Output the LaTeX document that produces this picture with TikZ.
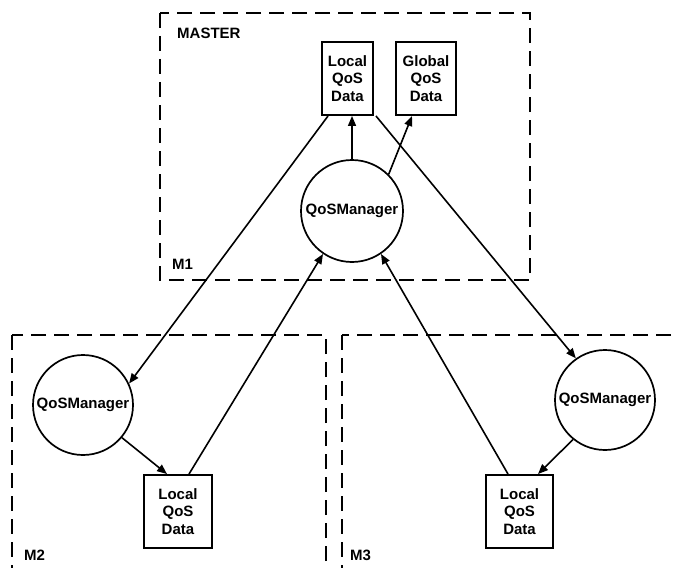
\documentclass[tikz,border=0pt]{standalone}
\usepackage{fontspec}
\setmainfont{Liberation Sans}
\usetikzlibrary{arrows.meta}
\begin{document}
\begin{tikzpicture}[x=1pt,y=-1pt,
  every node/.style={font=\fontsize{15}{17.5}\selectfont\bfseries},
  grp/.style={draw,line width=1.7pt,dash pattern=on 15pt off 8pt},
  databox/.style={draw,line width=1.9pt,minimum height=73pt,inner sep=0pt,align=center},
  mgr/.style={draw,circle,line width=1.7pt,minimum size=100pt,inner sep=0pt},
  lbl/.style={anchor=west,inner sep=0pt},
  conn/.style={line width=1.6pt,-{Triangle[length=10pt,width=8pt]}},
  plain/.style={line width=1.6pt}]
\useasboundingbox (0,0) rectangle (676,567);
\clip (0,0) rectangle (676,567);
\fill[white] (0,0) rectangle (676,567);
% groups
\draw[grp] (160,13) rectangle (530,280);
\draw[grp] (12,335) rectangle (326,590);
\draw[grp] (342,335) rectangle (700,590);
\node[lbl] (tmaster) at (177,33) {MASTER};
\node[lbl] (tm1) at (172,264) {M1};
\node[lbl] (tm2) at (24,555) {M2};
\node[lbl] (tm3) at (350,555) {M3};
% master
\node[databox,minimum width=51pt] (ml) at (347.5,78.5) {Local\\QoS\\Data};
\node[databox,minimum width=60pt] (gl) at (426,78.5) {Global\\QoS\\Data};
\node[mgr,minimum size=102pt] (mq) at (352,211) {QoSManager};
% M2
\node[mgr] (aq) at (83,405) {QoSManager};
\node[databox,minimum width=68pt] (al) at (178,511.5) {Local\\QoS\\Data};
% M3
\node[mgr] (bq) at (605,400) {QoSManager};
\node[databox,minimum width=67pt] (bl) at (519.5,511.5) {Local\\QoS\\Data};
% connectors
\draw[conn] (mq.north) -- (mq.north |- ml.south);
\draw[conn] (mq.45) -- ([xshift=-14pt]gl.south);
\draw[conn] ([xshift=7pt]ml.south west) -- (aq.25);
\draw[conn] ([xshift=2pt]ml.south east) -- (bq.125);
\draw[conn] (aq.320) -- ([xshift=-11pt]al.north);
\draw[conn] (bq.231) -- ([xshift=18.5pt]bl.north);
\draw[conn] ([xshift=11pt]al.north) -- (mq.236);
\draw[conn] ([xshift=-11.5pt]bl.north) -- (mq.304);
\end{tikzpicture}
\end{document}
